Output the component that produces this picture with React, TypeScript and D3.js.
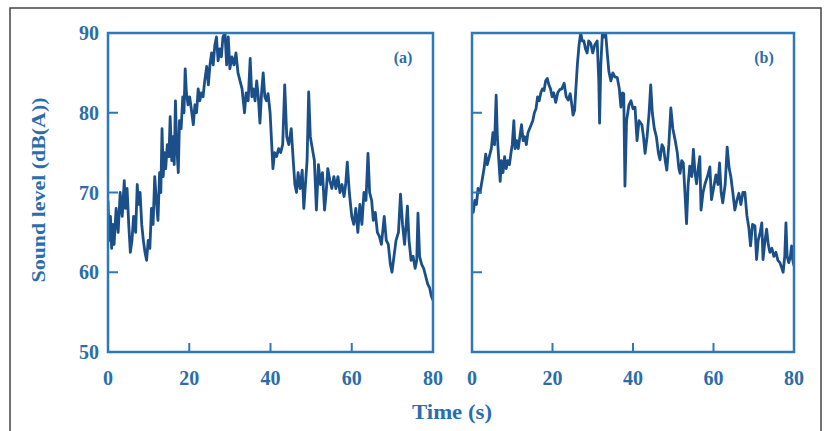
import React from "react";
import { scaleLinear, line } from "d3";

// sound level traces, [time (s), level dB(A)]
const traceA: [number, number][] = [
  [0, 69], [0.3, 64], [0.6, 67], [0.9, 63], [1.2, 66], [1.5, 63.5], [2, 68], [2.5, 65], [3, 70], [3.5, 67],
  [4, 71.5], [4.3, 68], [4.7, 70.5], [5.1, 66], [5.5, 62.5], [5.9, 64], [6.3, 67], [6.8, 65], [7.2, 71], [7.5, 68.5],
  [7.9, 70], [8.3, 66], [8.7, 64], [9.1, 62.5], [9.5, 61.5], [9.9, 64], [10.3, 63], [10.7, 68], [11.1, 66], [11.5, 72],
  [11.9, 69], [12.3, 66.5], [12.7, 72.5], [13.0, 70], [13.3, 78], [13.6, 72], [13.9, 75], [14.2, 73], [14.6, 76], [15.0, 74.5],
  [15.3, 79.5], [15.7, 74], [16.0, 77], [16.3, 73.5], [16.6, 81.5], [16.9, 76], [17.3, 72.5], [17.6, 79], [18.0, 78], [18.4, 82],
  [18.7, 80], [19.0, 85.5], [19.3, 82.5], [19.7, 81], [20.1, 82], [20.5, 80.5], [21.0, 78.5], [21.4, 81], [21.8, 80], [22.2, 83],
  [22.6, 81.5], [23.0, 82.5], [23.4, 82], [23.8, 84], [24.3, 85.8], [24.7, 83.5], [25.1, 86], [25.5, 87.5], [25.9, 86], [26.3, 88.5],
  [26.7, 89.5], [27.1, 86.5], [27.5, 88], [27.9, 87], [28.3, 89.5], [28.8, 90], [29.2, 86], [29.6, 89.5], [30.0, 85.5], [30.5, 87],
  [31.0, 86], [31.5, 87.5], [32.0, 85], [32.5, 84], [33.0, 83], [33.6, 80], [34.0, 82.5], [34.5, 81.5], [35.0, 86.8], [35.4, 82],
  [35.8, 83], [36.2, 81.5], [36.6, 84], [37.0, 82], [37.4, 78.7], [37.8, 82.5], [38.2, 85], [38.6, 82], [39.0, 81.5], [39.4, 82.4],
  [39.9, 80], [40.3, 76], [40.6, 73], [41.0, 75], [41.5, 74.5], [42.0, 75.5], [42.5, 75], [43.0, 76], [43.5, 83.5], [44.0, 77],
  [44.5, 76], [45.1, 78], [45.6, 74], [46.0, 71], [46.4, 70], [46.8, 72.5], [47.3, 70.5], [47.8, 72.8], [48.2, 68], [48.6, 71],
  [49.0, 74], [49.4, 82.6], [49.8, 77], [50.3, 75.5], [50.8, 74], [51.3, 67.8], [51.8, 73.5], [52.3, 71], [52.8, 72.5], [53.3, 67.8],
  [53.7, 70], [54.1, 73], [54.6, 71.5], [55.1, 70.5], [55.6, 72], [56.1, 70.5], [56.6, 72], [57.1, 70], [57.6, 71], [58.1, 69.5],
  [58.5, 71], [58.9, 73.8], [59.4, 70], [60.0, 67], [60.5, 66], [61.0, 68], [61.5, 65], [62.0, 68.5], [62.5, 66], [63.0, 70],
  [63.5, 69], [64.0, 74.9], [64.4, 70], [64.9, 69], [65.3, 66.5], [65.8, 67.5], [66.3, 65], [66.8, 64.5], [67.3, 63.5], [68.0, 67],
  [68.5, 64], [69.0, 63.5], [69.5, 61], [69.9, 60], [70.4, 62], [70.9, 64], [71.5, 65], [72.0, 69.8], [72.5, 66], [73.0, 63.5],
  [73.4, 66], [73.7, 68.3], [74.1, 64], [74.6, 61.5], [75.1, 62], [75.6, 60.5], [76.0, 61.5], [76.3, 67.4], [76.7, 62], [77.2, 61],
  [77.7, 60.5], [78.2, 59.5], [78.7, 58.5], [79.2, 58], [79.6, 57], [80, 56.5],
];

const traceB: [number, number][] = [
  [0, 68], [0.3, 67.5], [0.7, 69], [1.1, 68.5], [1.5, 70.5], [2.0, 70], [2.5, 71.5], [3.0, 73], [3.4, 74.8], [3.8, 73.5],
  [4.3, 74.5], [4.8, 75.5], [5.2, 77.5], [5.6, 76], [6.0, 82.2], [6.3, 77], [6.6, 74.5], [7.0, 71.4], [7.3, 74], [7.7, 72.5],
  [8.1, 74.5], [8.5, 73], [8.9, 74], [9.3, 73.5], [9.7, 75], [10.0, 76], [10.4, 79], [10.7, 75.5], [11.1, 76.5], [11.5, 75.5],
  [11.9, 77], [12.3, 78.5], [12.7, 76.5], [13.1, 77], [13.5, 76], [13.9, 77.5], [14.3, 78], [14.7, 78.5], [15.1, 79], [15.5, 80],
  [15.9, 80.5], [16.3, 82], [16.7, 81.5], [17.1, 82.5], [17.5, 83], [17.9, 82.8], [18.3, 84], [18.7, 84.3], [19.1, 83.5], [19.5, 83],
  [19.9, 82], [20.3, 82.5], [20.8, 81.3], [21.3, 82.5], [21.8, 82.9], [22.3, 83], [22.9, 83.7], [23.4, 82], [23.9, 81.6], [24.4, 82.4],
  [24.8, 81], [25.1, 79.7], [25.5, 80.3], [25.8, 83], [26.2, 86.2], [26.6, 88.5], [27.0, 90], [27.4, 89], [27.8, 89], [28.2, 88],
  [28.6, 87.5], [29.0, 89], [29.5, 88.7], [30.0, 87.5], [30.5, 88.5], [31.1, 89], [31.5, 84], [31.7, 78.7], [32.0, 86], [32.4, 90],
  [32.8, 89.5], [33.2, 90], [33.6, 87.5], [34.0, 85.2], [34.5, 84], [35.0, 85], [35.5, 84.5], [36.1, 84.4], [36.6, 83], [37.0, 80.7],
  [37.4, 82.5], [37.7, 82.4], [38.0, 70.8], [38.4, 79], [39.0, 81], [39.5, 81.5], [40.0, 80.5], [40.5, 80.7], [41.0, 76.5], [41.5, 79],
  [42.2, 78.5], [42.6, 77], [43.0, 74.9], [43.5, 77], [44.0, 80], [44.4, 83.5], [44.8, 80], [45.3, 78], [45.8, 77], [46.3, 75],
  [46.7, 74.1], [47.2, 76], [47.6, 75.6], [48.0, 74], [48.4, 72.8], [48.9, 76], [49.4, 80.6], [49.9, 78], [50.5, 76.5], [51.0, 75],
  [51.4, 73], [51.7, 72.4], [52.1, 74], [52.5, 73.7], [52.9, 70], [53.3, 66.1], [53.7, 71], [54.1, 73.3], [54.6, 72], [55.0, 75.4],
  [55.4, 72.5], [55.8, 71.1], [56.2, 73], [56.6, 74.5], [56.9, 67.8], [57.4, 70], [57.9, 71.1], [58.5, 72], [59.1, 73.2], [59.5, 69.1],
  [60.0, 70.5], [60.6, 72.2], [61.1, 71], [61.5, 73.7], [61.9, 70], [62.3, 68.7], [62.9, 71], [63.4, 75.7], [63.9, 73], [64.3, 72],
  [64.8, 70], [65.3, 67.8], [65.8, 69], [66.3, 69.9], [66.8, 68.5], [67.3, 70], [67.8, 70], [68.3, 67.1], [68.8, 65.5], [69.2, 63.3],
  [69.7, 66], [70.3, 65.8], [70.7, 61.6], [71.1, 64], [71.6, 65], [72.0, 66.2], [72.3, 61.6], [72.8, 64], [73.2, 65.4], [73.6, 63.5],
  [74.0, 62.5], [74.5, 63], [75.0, 62], [75.5, 62.5], [76.0, 61.5], [76.5, 61.2], [77.0, 60.5], [77.3, 60], [77.7, 62], [78.0, 66.2],
  [78.3, 62], [78.7, 61.2], [79.1, 62], [79.4, 63.3], [79.7, 61.5], [80, 60.8],
];

const xTicks = [0, 20, 40, 60, 80];
const yTicks = [50, 60, 70, 80, 90];

const LINE = "#1a4f8a";
const FRAME = "#2f77b6";
const TEXT = "#2b6dab";
const FONT = "'Liberation Serif', 'Times New Roman', serif";

const top = 33;
const bottom = 352;

function Panel({ data, left, right, label, showY, id }: {
  data: [number, number][]; left: number; right: number; label: string; showY: boolean; id: string;
}) {
  const x = scaleLinear().domain([0, 80]).range([left, right]);
  const y = scaleLinear().domain([50, 90]).range([bottom, top]);
  const path = line<[number, number]>().x(d => x(d[0])).y(d => y(d[1]))(data) || "";
  return (
    <g>
      <clipPath id={id}>
        <rect x={left} y={top} width={right - left} height={bottom - top} />
      </clipPath>
      <path d={path} fill="none" stroke={LINE} strokeWidth={2.8} strokeLinejoin="round" clipPath={`url(#${id})`} />
      {yTicks.slice(1, -1).map(t => (
        <line key={"y" + t} x1={left} x2={left + 10} y1={y(t)} y2={y(t)} stroke={FRAME} strokeWidth={2} />
      ))}
      {xTicks.slice(1, -1).map(t => (
        <line key={"x" + t} x1={x(t)} x2={x(t)} y1={bottom} y2={bottom - 9} stroke={FRAME} strokeWidth={2} />
      ))}
      <rect x={left} y={top} width={right - left} height={bottom - top} fill="none" stroke={FRAME} strokeWidth={2.5} />
      {xTicks.map(t => (
        <text key={"xl" + t} x={x(t)} y={385} textAnchor="middle" fontSize={20} fontWeight="bold" fill={TEXT} fontFamily={FONT}>{t}</text>
      ))}
      {showY && yTicks.map(t => (
        <text key={"yl" + t} x={99} y={y(t) + 7} textAnchor="end" fontSize={20} fontWeight="bold" fill={TEXT} fontFamily={FONT}>{t}</text>
      ))}
      <text x={right - 30} y={63} textAnchor="middle" fontSize={16} fontWeight="bold" fill={TEXT} fontFamily={FONT}>{label}</text>
    </g>
  );
}

export default function App() {
  return (
    <svg width={828} height={431} style={{ position: "absolute", left: 0, top: 0, background: "#fff" }}>
      <rect x={10} y={8} width={811} height={440} fill="none" stroke="#444" strokeWidth={1.5} />
      <Panel data={traceA} left={108} right={433} label="(a)" showY={true} id="clipA" />
      <Panel data={traceB} left={472} right={794} label="(b)" showY={false} id="clipB" />
      <text transform="translate(45,190) rotate(-90)" textAnchor="middle" fontSize={19} fontWeight="bold" fill={TEXT}
        fontFamily={FONT} textLength={185} lengthAdjust="spacingAndGlyphs">Sound level (dB(A))</text>
      <text x={452} y={419} textAnchor="middle" fontSize={20} fontWeight="bold" fill={TEXT} fontFamily={FONT}
        textLength={80} lengthAdjust="spacingAndGlyphs">Time (s)</text>
    </svg>
  );
}
